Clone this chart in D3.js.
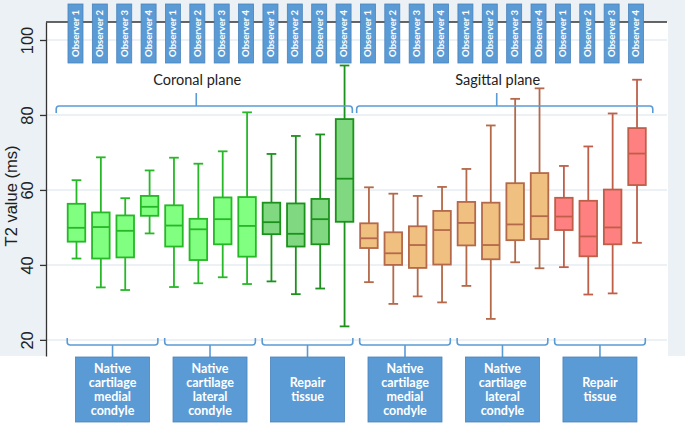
<!DOCTYPE html>
<html>
<head>
<meta charset="utf-8">
<script src="https://cdn.jsdelivr.net/npm/d3@7"></script>
<style>
  html, body { margin: 0; padding: 0; background: #ffffff; }
  svg { display: block; }
</style>
</head>
<body>
<div id="chart"></div>
<script>
// ---------------- data ----------------
const observers = ["Observer 1","Observer 2","Observer 3","Observer 4",
                   "Observer 1","Observer 2","Observer 3","Observer 4",
                   "Observer 1","Observer 2","Observer 3","Observer 4",
                   "Observer 1","Observer 2","Observer 3","Observer 4",
                   "Observer 1","Observer 2","Observer 3","Observer 4",
                   "Observer 1","Observer 2","Observer 3","Observer 4"];
const groupLabels = [
  ["Native","cartilage","medial","condyle"],
  ["Native","cartilage","lateral","condyle"],
  ["Repair","tissue"],
  ["Native","cartilage","medial","condyle"],
  ["Native","cartilage","lateral","condyle"],
  ["Repair","tissue"]
];
const planes = ["Coronal plane","Sagittal plane"];
const yTicks = [20, 40, 60, 80, 100];

const whiskerHigh = [62.6,68.7,57.8,65.2, 68.6,67.0,70.3,80.7, 69.6,74.4,74.8,93.2,
                     60.7,59.0,58.4,60.8, 65.6,77.2,84.3,87.1, 66.4,71.6,80.4,89.4];
const q3          = [56.3,54.0,53.2,58.4, 55.9,52.3,58.0,58.1, 56.6,56.4,57.6,78.9,
                     51.1,48.7,50.3,54.4, 56.8,56.6,61.8,64.5, 57.9,57.1,60.1,76.5];
const median      = [49.9,50.1,49.1,55.5, 50.5,49.5,52.2,50.4, 51.4,48.3,52.2,63.0,
                     47.1,43.1,45.3,49.3, 51.2,45.3,50.8,53.0, 52.9,47.6,50.0,69.7];
const q1          = [46.2,41.7,42.0,53.1, 44.9,41.3,45.5,42.2, 48.2,44.9,45.5,51.5,
                     44.5,40.0,39.2,40.1, 45.2,41.5,46.6,46.9, 49.3,42.3,45.5,61.3];
const whiskerLow  = [41.7,34.0,33.3,48.4, 34.1,35.1,36.7,34.9, 35.6,32.2,33.7,23.6,
                     35.4,29.6,31.6,30.0, 34.4,25.6,40.7,39.1, 39.4,32.1,32.4,45.9];

// styles per group (6 groups of 4)
const groupFill   = ["#80ff80","#80ff80","#80d880","#f0c080","#f0c080","#ff8080"];
const groupStroke = ["#26b826","#26b826","#1c921c","#b4694a","#b4694a","#bf5f4a"];

// ---------------- layout ----------------
const W = 685, H = 427;
const plotLeft = 46, plotRight = 668, plotTop = 22, plotBottom = 356;
const blue = "#5b9bd5", blueDark = "#4a83bb";

const svg = d3.select("#chart").append("svg")
  .attr("width", W).attr("height", H);

// backgrounds
svg.append("rect").attr("x",0).attr("y",0).attr("width",W).attr("height",plotBottom)
  .attr("fill","#ebf1f4");
svg.append("rect").attr("x",plotLeft).attr("y",plotTop)
  .attr("width",plotRight-plotLeft).attr("height",plotBottom-plotTop).attr("fill","#ffffff");

const y = d3.scaleLinear().domain([15.7, 104.8]).range([plotBottom, plotTop]);
const x = d3.scaleBand().domain(d3.range(24)).range([64.3, 649.2])
  .paddingInner(0.28).paddingOuter(0.14);
const bw = x.bandwidth();

// gridlines
svg.append("g").selectAll("line").data(yTicks).join("line")
  .attr("x1", plotLeft).attr("x2", plotRight - 1)
  .attr("y1", d => y(d)).attr("y2", d => y(d))
  .attr("stroke", "#e5edf1").attr("stroke-width", 1.5);

// y axis
const axis = svg.append("g").attr("transform", `translate(${plotLeft},0)`)
  .call(d3.axisLeft(y).tickValues(yTicks).tickSize(6).tickSizeOuter(0));
axis.select(".domain").attr("stroke","#333").attr("stroke-width",1.3);
axis.selectAll(".tick line").attr("stroke","#333").attr("stroke-width",1.3);
axis.selectAll(".tick text")
  .attr("x", null).attr("dy", null)
  .attr("transform", "translate(-13,0) rotate(-90)")
  .attr("text-anchor", "middle")
  .attr("font-family", "'Liberation Sans', Arial, sans-serif")
  .attr("font-size", 16.5).attr("fill", "#222");

svg.append("text")
  .attr("transform", `translate(17,${196}) rotate(-90)`)
  .attr("text-anchor","middle")
  .attr("font-family","'Liberation Sans', Arial, sans-serif")
  .attr("font-size",16.5).attr("fill","#222")
  .text("T2 value (ms)");

// top border line
svg.append("line").attr("x1",plotLeft).attr("x2",plotRight-1)
  .attr("y1",plotTop).attr("y2",plotTop)
  .attr("stroke","#333").attr("stroke-width",1.5);

// box plots
const boxes = svg.append("g").selectAll("g").data(d3.range(24)).join("g")
  .attr("transform", i => `translate(${x(i)},0)`);
boxes.each(function(i){
  const g = d3.select(this);
  const gi = Math.floor(i/4);
  const st = groupStroke[gi];
  const cx = bw/2;
  const cap = bw*0.55;
  g.append("line").attr("x1",cx).attr("x2",cx)
    .attr("y1",y(whiskerHigh[i])).attr("y2",y(whiskerLow[i]))
    .attr("stroke",st).attr("stroke-width",1.8);
  g.append("line").attr("x1",cx-cap/2).attr("x2",cx+cap/2)
    .attr("y1",y(whiskerHigh[i])).attr("y2",y(whiskerHigh[i]))
    .attr("stroke",st).attr("stroke-width",1.8);
  g.append("line").attr("x1",cx-cap/2).attr("x2",cx+cap/2)
    .attr("y1",y(whiskerLow[i])).attr("y2",y(whiskerLow[i]))
    .attr("stroke",st).attr("stroke-width",1.8);
  g.append("rect").attr("x",0).attr("width",bw)
    .attr("y",y(q3[i])).attr("height",y(q1[i])-y(q3[i]))
    .attr("fill",groupFill[gi]).attr("stroke",st).attr("stroke-width",1.8);
  g.append("line").attr("x1",0).attr("x2",bw)
    .attr("y1",y(median[i])).attr("y2",y(median[i]))
    .attr("stroke",st).attr("stroke-width",1.8);
});

// observer labels on top
const obs = svg.append("g").selectAll("g").data(d3.range(24)).join("g")
  .attr("transform", i => `translate(${x(i)+bw/2 - 1},0)`);
obs.append("rect").attr("x",-7.5).attr("y",4).attr("width",15).attr("height",59)
  .attr("fill",blue).attr("stroke",blueDark).attr("stroke-width",0.8);
obs.append("text")
  .attr("transform","translate(3.4,33.5) rotate(-90)")
  .attr("text-anchor","middle")
  .attr("font-family","Lato, 'Open Sans', sans-serif")
  .attr("font-weight","bold").attr("font-size",9.5).attr("fill","#ffffff")
  .text(i => observers[i]);

// plane brackets (top)
function topBracket(x0, x1, xc){
  const yT = 106, yE = 113, r = 3;
  return `M${x0},${yE} V${yT+r} Q${x0},${yT} ${x0+r},${yT} H${x1-r} Q${x1},${yT} ${x1},${yT+r} V${yE} M${xc},${yT} V93`;
}
const planeSpans = [
  [x(0) - 11.5, x(11) + bw - 1],
  [x(12) - 3.5, x(23) + bw + 7]
];
planeSpans.forEach((s, k) => {
  const xc = (s[0]+s[1])/2 - 8;
  svg.append("path").attr("d", topBracket(s[0], s[1], xc))
    .attr("fill","none").attr("stroke",blue).attr("stroke-width",1.6);
  svg.append("text").attr("x", xc + 1).attr("y", 85)
    .attr("text-anchor","middle")
    .attr("font-family","Lato, 'Open Sans', sans-serif")
    .attr("font-size",14.5).attr("fill","#222")
    .text(planes[k]);
});

// group brackets (bottom) and boxes
function botBracket(x0, x1, xc){
  const yT = 338, yB = 345, r = 3;
  return `M${x0},${yT} V${yB-r} Q${x0},${yB} ${x0+r},${yB} H${x1-r} Q${x1},${yB} ${x1},${yB-r} V${yT} M${xc},${yB} V357`;
}
groupLabels.forEach((lines, gi) => {
  const x0 = x(gi*4) - 0.5, x1 = x(gi*4+3) + bw - 0.5;
  const xc = (x0 + x1)/2;
  svg.append("path").attr("d", botBracket(x0, x1, xc))
    .attr("fill","none").attr("stroke",blue).attr("stroke-width",1.6);
  svg.append("rect").attr("x", xc-37).attr("y",357).attr("width",74).attr("height",65)
    .attr("fill",blue).attr("stroke",blueDark).attr("stroke-width",0.8);
  const lh = 14;
  const start = 389.5 - (lines.length-1)*lh/2;
  const t = svg.append("text").attr("text-anchor","middle")
    .attr("font-family","Lato, 'Open Sans', sans-serif")
    .attr("font-weight","bold").attr("font-size",12.5).attr("fill","#ffffff");
  lines.forEach((ln, j) => {
    t.append("tspan").attr("x", xc).attr("y", start + j*lh + 4.5).text(ln);
  });
});
</script>
</body>
</html>
